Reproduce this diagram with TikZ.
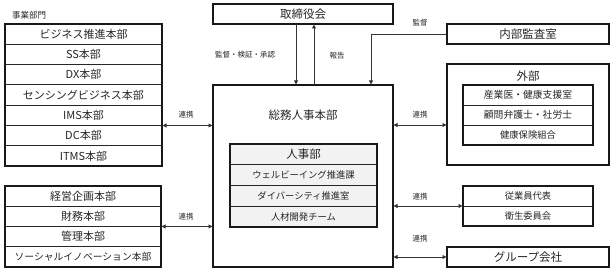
\documentclass[tikz,border=0pt]{standalone}
\usepackage{fontspec}
\setmainfont{Noto Sans CJK JP}
\usetikzlibrary{arrows.meta,positioning,fit,calc}
\definecolor{inner}{HTML}{F2F2F2}
\tikzset{
  txt/.style={text=black!85},
  rowbox/.style={draw=black!85, line width=0.8pt, inner sep=0pt, outer sep=0pt, txt, font=\fontsize{11}{12}\selectfont},
  smallrow/.style={rowbox, font=\fontsize{9.3}{10}\selectfont},
  frame/.style={draw=black!90, line width=1.3pt, inner sep=0pt, outer sep=0pt},
  titlebox/.style={draw=black!90, line width=1.3pt, inner sep=0pt, outer sep=0pt, txt, font=\fontsize{11.5}{12}\selectfont},
  lbl/.style={txt, inner sep=0pt, font=\fontsize{7.5}{8}\selectfont},
  arr/.style={draw=black!80, line width=0.8pt, -{Latex[length=4.5pt,width=4.5pt]}},
  biarr/.style={draw=black!80, line width=0.8pt, {Latex[length=4.5pt,width=4.5pt]}-{Latex[length=4.5pt,width=4.5pt]}}
}
\begin{document}
\begin{tikzpicture}[x=1pt,y=-1pt]
\useasboundingbox (0,0) rectangle (613,272);
% header
\node[lbl, anchor=west, font=\fontsize{8.5}{9}\selectfont] (hdr) at (12,15) {事業部門};
% left top group
\node[rowbox, minimum width=157pt, minimum height=20.3pt] (a1) at (83.5,34.15) {ビジネス推進本部};
\node[rowbox, minimum width=157pt, minimum height=20.3pt, below=0pt of a1] (a2) {SS本部};
\node[rowbox, minimum width=157pt, minimum height=20.3pt, below=0pt of a2] (a3) {DX本部};
\node[rowbox, minimum width=157pt, minimum height=20.3pt, below=0pt of a3] (a4) {センシングビジネス本部};
\node[rowbox, minimum width=157pt, minimum height=20.3pt, below=0pt of a4] (a5) {IMS本部};
\node[rowbox, minimum width=157pt, minimum height=20.3pt, below=0pt of a5] (a6) {DC本部};
\node[rowbox, minimum width=157pt, minimum height=20.3pt, below=0pt of a6] (a7) {ITMS本部};
\node[frame, fit=(a1)(a7)] (aframe) {};
% left bottom group
\node[rowbox, minimum width=156pt, minimum height=20.25pt] (b1) at (83,196.1) {経営企画本部};
\node[rowbox, minimum width=156pt, minimum height=20.25pt, below=0pt of b1] (b2) {財務本部};
\node[rowbox, minimum width=156pt, minimum height=20.25pt, below=0pt of b2] (b3) {管理本部};
\node[rowbox, minimum width=156pt, minimum height=20.25pt, below=0pt of b3, font=\fontsize{9.8}{10}\selectfont] (b4) {ソーシャルイノベーション本部};
\node[frame, fit=(b1)(b4)] (bframe) {};
% board
\node[titlebox, minimum width=180pt, minimum height=20pt] (bod) at (303,14) {取締役会};
% center
\node[frame, minimum width=180pt, minimum height=182pt] (ctr) at (303,176) {};
\node[txt, font=\fontsize{11.5}{12}\selectfont] (ctrt) at (303,115) {総務人事本部};
\node[rowbox, fill=inner, minimum width=147pt, minimum height=20.75pt, font=\fontsize{11.5}{12}\selectfont] (c1) at (303.5,154.4) {人事部};
\node[smallrow, fill=inner, minimum width=147pt, minimum height=20.75pt, below=0pt of c1] (c2) {ウェルビーイング推進課};
\node[smallrow, fill=inner, minimum width=147pt, minimum height=20.75pt, below=0pt of c2] (c3) {ダイバーシティ推進室};
\node[smallrow, fill=inner, minimum width=147pt, minimum height=20.75pt, below=0pt of c3] (c4) {人材開発チーム};
\node[frame, fit=(c1)(c4)] (cframe) {};
% audit
\node[titlebox, minimum width=162pt, minimum height=20pt] (aud) at (528,34) {内部監査室};
% external
\node[frame, minimum width=162pt, minimum height=101pt] (ext) at (528,114.5) {};
\node[txt, font=\fontsize{11.5}{12}\selectfont] (extt) at (528,76) {外部};
\node[smallrow, minimum width=130pt, minimum height=20pt, font=\fontsize{9.8}{10}\selectfont] (e1) at (528,95) {産業医・健康支援室};
\node[smallrow, minimum width=130pt, minimum height=20pt, below=0pt of e1, font=\fontsize{9.8}{10}\selectfont] (e2) {顧問弁護士・社労士};
\node[smallrow, minimum width=130pt, minimum height=20pt, below=0pt of e2] (e3) {健康保険組合};
\node[frame, fit=(e1)(e3)] (eframe) {};
% employees
\node[smallrow, minimum width=130pt, minimum height=20pt] (f1) at (528,196) {従業員代表};
\node[smallrow, minimum width=130pt, minimum height=20pt, below=0pt of f1] (f2) {衛生委員会};
\node[frame, fit=(f1)(f2)] (fframe) {};
% group
\node[titlebox, minimum width=162pt, minimum height=20pt] (grp) at (528,257) {グループ会社};
% connectors
\draw[arr] ([xshift=-7pt]bod.south) -- ([xshift=-7pt]ctr.north);
\draw[arr] ([xshift=11pt]ctr.north) -- ([xshift=11pt]bod.south);
\draw[arr] (aud.west) -| ([xshift=68pt]ctr.north);
\draw[biarr] (a5.south east) -- (ctr.west |- a5.south east);
\draw[biarr] (b2.south east) -- (ctr.west |- b2.south east);
\draw[biarr] (ctr.east |- e2.south) -- (ext.west |- e2.south);
\draw[biarr] (ctr.east |- f1.south west) -- (f1.south west);
\draw[biarr] (ctr.east |- grp.west) -- (grp.west);
% labels
\node[lbl] (l1) at (245,55) {監督・検証・承認};
\node[lbl] (l2) at (337,56) {報告};
\node[lbl] (l3) at (420,23) {監督};
\node[lbl] (l4) at (186,115) {連携};
\node[lbl] (l5) at (186,217) {連携};
\node[lbl] (l6) at (420,115) {連携};
\node[lbl] (l7) at (420,197) {連携};
\node[lbl] (l8) at (420,239) {連携};
\end{tikzpicture}
\end{document}
